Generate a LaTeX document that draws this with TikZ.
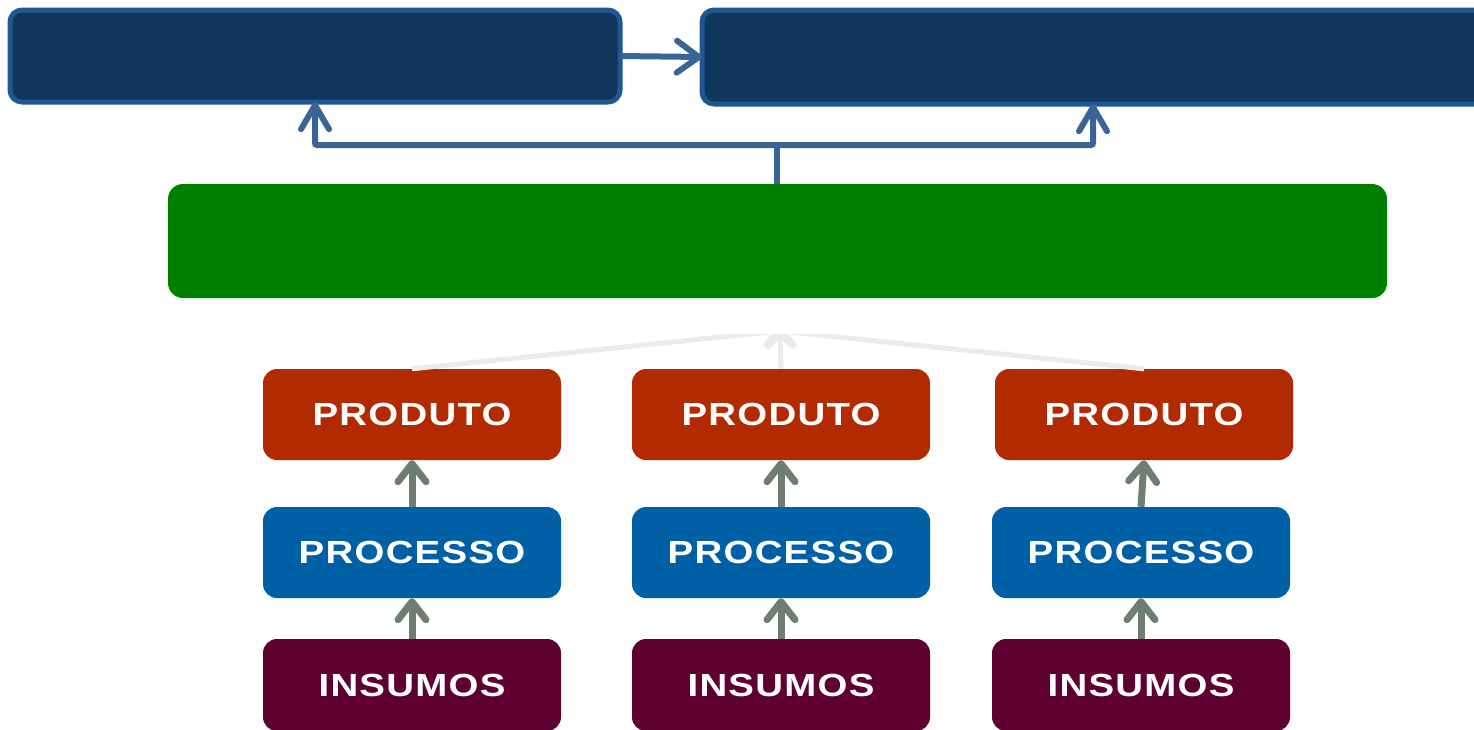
\documentclass[tikz,border=0pt]{standalone}
\usepackage{fontspec}
\setmainfont{Liberation Sans}
\newfontfamily\boxfont[FakeStretch=1.2,LetterSpace=4]{Liberation Sans Bold}
\usetikzlibrary{arrows.meta}
\definecolor{topfill}{HTML}{11365B}
\definecolor{topborder}{HTML}{1E5794}
\definecolor{conn}{HTML}{3B6496}
\definecolor{greenbox}{HTML}{008000}
\definecolor{prodcol}{HTML}{B22A00}
\definecolor{proccol}{HTML}{0060A6}
\definecolor{inscol}{HTML}{5E0030}
\definecolor{greyarr}{HTML}{6E7E72}
\definecolor{faint}{HTML}{EAEBEA}
\begin{document}
\begin{tikzpicture}[x=1pt,y=-1pt,
  topbox/.style={draw=topborder,line width=5pt,fill=topfill,rounded corners=12pt},
  lowbox/.style={rounded corners=14pt,minimum width=298pt,minimum height=91pt,inner sep=0pt,text=white,font=\boxfont\fontsize{32}{32}\selectfont},
  conarrow/.style={draw=conn,line width=6pt,-{Straight Barb[length=24pt,width=28pt,line cap=round,line join=round]}},
  greyarrow/.style={draw=greyarr,line width=7pt,-{Straight Barb[length=18pt,width=28pt,line cap=round,line join=round]}},
  faintarrow/.style={draw=faint,line width=5pt,-{Straight Barb[length=12pt,width=24pt,line cap=round]}}]
\useasboundingbox (0,0) rectangle (1474,729);
\clip (0,0) rectangle (1474,729);
% top boxes
\path[topbox] (10,10) rectangle (620,102);
\node[inner sep=0pt,minimum width=610pt,minimum height=92pt] (tl) at (315,56) {};
\path[topbox] (702,10) rectangle (1500,104);
\node[inner sep=0pt,minimum width=798pt,minimum height=94pt] (tr) at (1101,57) {};
% green box
\node[fill=greenbox,rounded corners=15pt,minimum width=1219pt,minimum height=114pt,inner sep=0pt] (g) at (777.5,241) {};
% lower boxes
\foreach \i/\xc in {1/412,2/781,3/1144}{
  \node[lowbox,fill=prodcol] (prod\i) at (\xc,414.5) {PRODUTO};
}
\foreach \i/\xc in {1/412,2/781,3/1141}{
  \node[lowbox,fill=proccol] (proc\i) at (\xc,552.5) {PROCESSO};
  \node[lowbox,fill=inscol,minimum height=92pt] (ins\i) at (\xc,685) {INSUMOS};
}
% grey arrows
\foreach \i in {1,2,3}{
  \draw[greyarrow] (proc\i.north) -- (prod\i.south);
  \draw[greyarrow] (ins\i.north) -- (proc\i.south);
}
% top connectors
\coordinate (split) at (777,145);
\draw[conarrow,-{Straight Barb[length=22pt,width=32pt,line cap=round,line join=round]}] (tl.east) -- (tr.west);
\draw[draw=conn,line width=6pt] (g.north -| split) -- (split);
\draw[conarrow,rounded corners=2pt] (split) -- (315,145) -- (tl.south);
\draw[conarrow,rounded corners=2pt] (split) -- (1093,145) -- (tr.south -| 1093,0);
% faint arrows (clipped)
\begin{scope}
\clip (0,334) rectangle (1474,729);
\coordinate (apex) at (780,331);
\draw[faintarrow] (prod1.north) -- (apex);
\draw[faintarrow] (prod2.north) -- (apex);
\draw[faintarrow] (prod3.north) -- (apex);
\end{scope}
\end{tikzpicture}
\end{document}
